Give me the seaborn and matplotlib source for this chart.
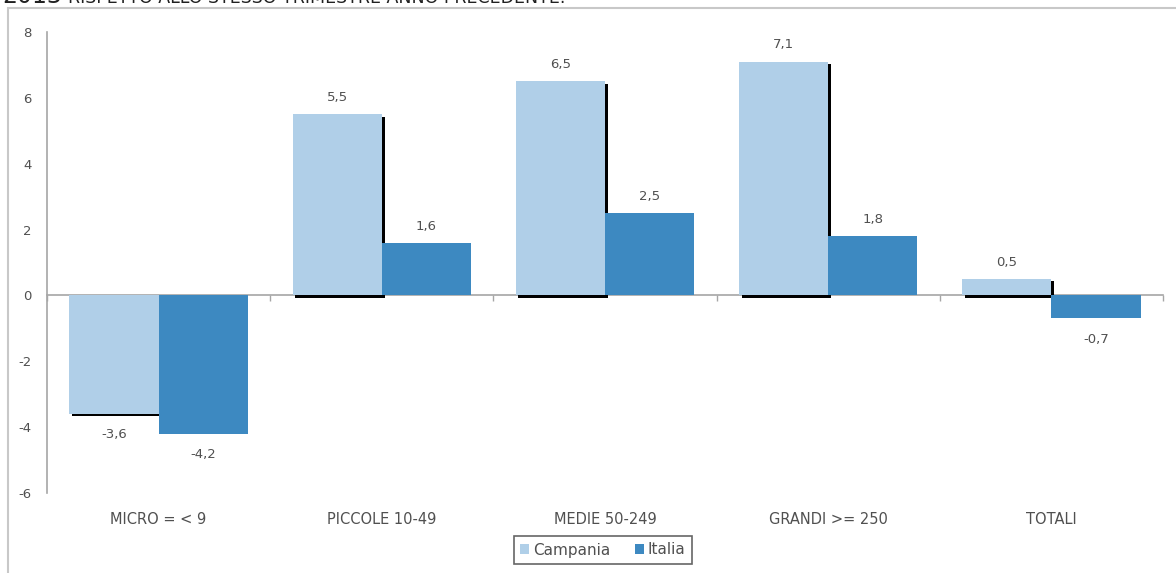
import numpy as np
import pandas as pd
import matplotlib
matplotlib.use("Agg")
import matplotlib.pyplot as plt
import matplotlib.patheffects as pe
from matplotlib.patches import Rectangle
import seaborn as sns

# --- data -----------------------------------------------------------------
categorie = ["MICRO = < 9", "PICCOLE 10-49", "MEDIE 50-249", "GRANDI >= 250", "TOTALI"]
campania = [-3.6, 5.5, 6.5, 7.1, 0.5]
italia = [-4.2, 1.6, 2.5, 1.8, -0.7]
serie = ["Campania", "Italia"]
yticks = [-6, -4, -2, 0, 2, 4, 6, 8]
titolo_anno = "2013"
titolo_testo = "RISPETTO ALLO STESSO TRIMESTRE ANNO PRECEDENTE."

df = pd.DataFrame({
    "classe": categorie * 2,
    "area": [serie[0]] * len(categorie) + [serie[1]] * len(categorie),
    "valore": campania + italia,
})

# --- style ----------------------------------------------------------------
sns.set_theme(style="white")
plt.rcParams["font.family"] = ["DejaVu Sans"]
txt_col = "#505050"
axis_col = "#a6a6a6"
colori = {"Campania": "#b0cfe8", "Italia": "#3d89c1"}

fig = plt.figure(figsize=(11.76, 5.73), dpi=100)
ax = fig.add_axes([47 / 1176, 1 - 493 / 573, (1163 - 47) / 1176, (493 - 32) / 573])

sns.barplot(data=df, x="classe", y="valore", hue="area", palette=colori,
            width=0.8, saturation=1, ax=ax, legend=True, errorbar=None,
            linewidth=0, edgecolor="none")

# dark drop shadow behind the Campania bars
for p in ax.containers[0]:
    p.set_path_effects([pe.SimplePatchShadow(offset=(2, -1.8), shadow_rgbFace="black", alpha=1.0),
                        pe.Normal()])

# value labels with decimal comma
for cont in ax.containers:
    for p in cont:
        h = p.get_height()
        val = h if p.get_y() == 0 else p.get_y()
        x = p.get_x() + p.get_width() / 2
        lab = f"{val:.1f}".replace(".", ",")
        dy = 12 if val >= 0 else -15
        ax.annotate(lab, (x, val), xytext=(0, dy), textcoords="offset points",
                    ha="center", va="center", fontsize=9.5, color=txt_col)

ax.set_ylim(-6, 8)
ax.set_xlim(-0.5, len(categorie) - 0.5)
ax.set_yticks(yticks)
ax.set_yticklabels([str(t) for t in yticks], color=txt_col, fontsize=9.5)
ax.set_xticks(range(len(categorie)))
ax.set_xticklabels(categorie, color=txt_col, fontsize=10.5)
ax.tick_params(axis="x", length=0, pad=14)
ax.tick_params(axis="y", length=0, pad=11)
ax.set_xlabel("")
ax.set_ylabel("")
for s in ["top", "right", "bottom"]:
    ax.spines[s].set_visible(False)
ax.spines["left"].set_color(axis_col)
ax.spines["left"].set_linewidth(1.2)

# category axis drawn at zero with boundary tick marks
zero_pos = (0 - (-6)) / (8 - (-6))
sec = ax.secondary_xaxis(zero_pos)
sec.set_xticks(np.arange(-0.5, len(categorie), 1.0))
sec.set_xticklabels([])
sec.tick_params(axis="x", direction="out", length=4, color=axis_col, width=1)
sec.spines["bottom"].set_color(axis_col)
sec.spines["bottom"].set_linewidth(1.2)
sec.set_zorder(0.5)

# legend
leg = ax.legend(loc="center", bbox_to_anchor=(603 / 1176, 1 - 550 / 573),
                bbox_transform=fig.transFigure, ncol=2, frameon=True, fontsize=11,
                handlelength=0.6, handleheight=0.6, handletextpad=0.25, columnspacing=1.6,
                borderpad=0.4, borderaxespad=0, fancybox=False, title=None)
leg.get_frame().set_edgecolor("#404040")
leg.get_frame().set_linewidth(1.2)
for t in leg.get_texts():
    t.set_color(txt_col)

# outer frame of the chart area
fig.patches.append(Rectangle((8 / 1176, -0.2), 1.2, 1.2 - 8 / 573,
                             transform=fig.transFigure, fill=False,
                             edgecolor="#c8c8c8", linewidth=1.5, clip_on=False))

# heading line (upper part sits beyond the top edge)
fig.text(2 / 1176, 1 - 3 / 573, titolo_anno, fontsize=17, color="#202020",
         ha="left", va="baseline")
fig.text(68 / 1176, 1 - 3 / 573, titolo_testo, fontsize=12.5, color="#202020",
         ha="left", va="baseline")

fig.savefig("out.png", dpi=100)
